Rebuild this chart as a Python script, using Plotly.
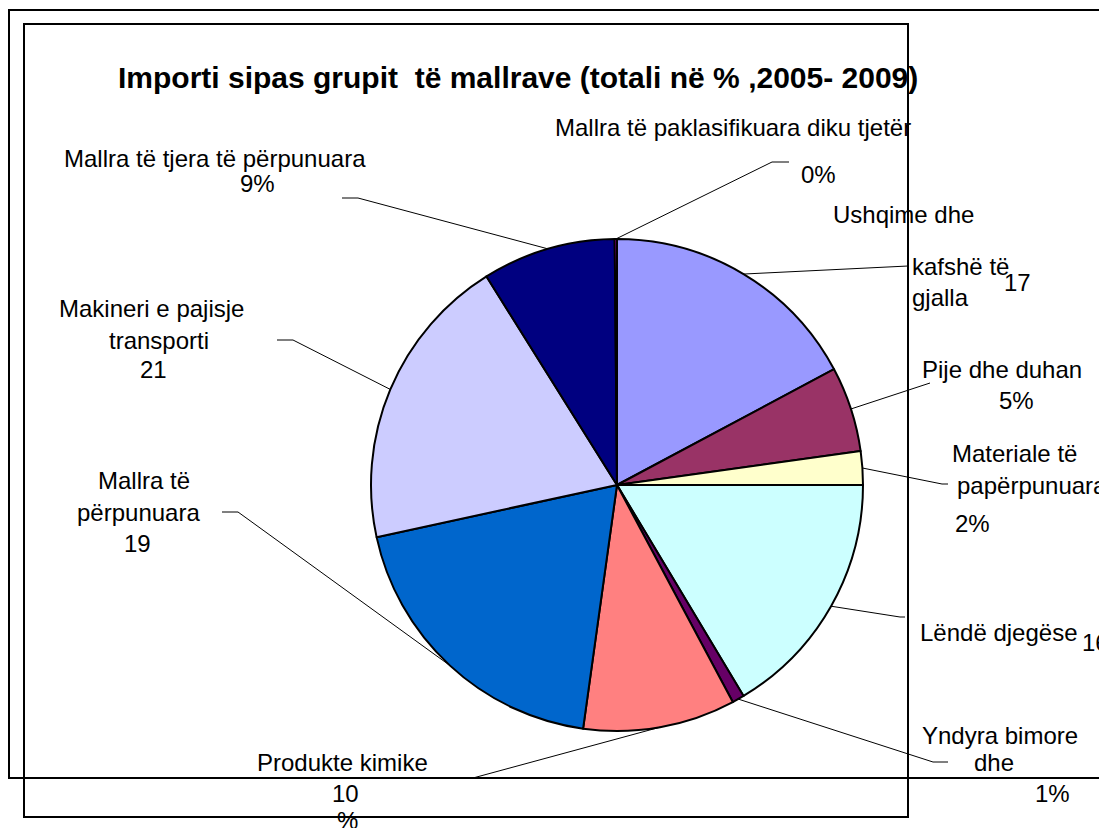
import math
import plotly.graph_objects as go

# ---------------- data ----------------
categories = [
    "Ushqime dhe kafshë të gjalla",
    "Pije dhe duhan",
    "Materiale të papërpunuara",
    "Lëndë djegëse",
    "Yndyra bimore dhe",
    "Produkte kimike",
    "Mallra të përpunuara",
    "Makineri e pajisje transporti",
    "Mallra të tjera të përpunuara",
    "Mallra të paklasifikuara diku tjetër",
]
values = [17.2, 5.6, 2.2, 16.4, 0.8, 10.0, 19.4, 19.5, 8.75, 0.15]
label_texts = [
    ["Ushqime dhe", "kafshë të", "17", "gjalla"],
    ["Pije dhe duhan", "5%"],
    ["Materiale të", "papërpunuara", "2%"],
    ["Lëndë djegëse", "16"],
    ["Yndyra bimore", "dhe", "1%"],
    ["Produkte kimike", "10", "%"],
    ["Mallra të", "përpunuara", "19"],
    ["Makineri e pajisje", "transporti", "21"],
    ["Mallra të tjera të përpunuara", "9%"],
    ["Mallra të paklasifikuara diku tjetër", "0%"],
]
title_text = "Importi sipas grupit\u00a0 të mallrave (totali në % ,2005- 2009)"

# ---------------- styles / layout positions (page pixels) ----------------
colors = ["#9999FF", "#993366", "#FFFFCC", "#CCFFFF", "#660066",
          "#FF8080", "#0066CC", "#CCCCFF", "#000080", "#FF00FF"]
W, H = 1107, 828
OFF = 8  # page body margin
CX, CY, R = 617, 485, 246
FONT = "Arial, Liberation Sans, sans-serif"
LABEL_SIZE = 24
TITLE_SIZE = 30

# left x, centre y of each text line
label_pos = [
    [(831, 214), (910, 266), (1002, 283), (910, 297)],
    [(920, 370), (997, 400)],
    [(950, 453), (955, 485), (953, 523)],
    [(918, 632), (1080, 642)],
    [(920, 735), (972, 762), (1033, 793)],
    [(255, 762), (330, 793), (335, 820)],
    [(96, 480), (75, 512), (122, 543)],
    [(57, 308), (107, 340), (138, 370)],
    [(62, 158), (238, 183)],
    [(553, 128), (799, 174)],
]
# leader line points after the slice edge point
leader_pts = [
    [(908, 266)],
    [(930, 383)],
    [(942, 484), (948, 484)],
    [(900, 617), (905, 617)],
    [(933, 762), (948, 762)],
    [(473, 778)],
    [(238, 512), (222, 512)],
    [(293, 340), (277, 340)],
    [(358, 198), (342, 198)],
    [(772, 162), (789, 162)],
]


def X(x):
    return (x - OFF) / W


def Y(y):
    return 1 - (y - OFF) / H


fig = go.Figure()
fig.add_trace(go.Pie(
    labels=categories,
    values=values,
    sort=False,
    direction="clockwise",
    rotation=0,
    marker=dict(colors=colors, line=dict(color="black", width=2)),
    textinfo="none",
    hoverinfo="label+value",
    showlegend=False,
    domain=dict(x=[X(CX - R), X(CX + R)], y=[Y(CY + R), Y(CY - R)]),
))

shapes = []
# frames
shapes.append(dict(type="rect", xref="paper", yref="paper",
                   x0=X(9), x1=X(1140), y0=Y(10), y1=Y(778),
                   line=dict(color="black", width=2), fillcolor="rgba(0,0,0,0)", layer="below"))
shapes.append(dict(type="rect", xref="paper", yref="paper",
                   x0=X(24), x1=X(908), y0=Y(24), y1=Y(817),
                   line=dict(color="black", width=2), fillcolor="rgba(0,0,0,0)", layer="below"))

# leader lines from slice mid-angle
total = sum(values)
cum = 0.0
for i, v in enumerate(values):
    mid = (cum + v / 2) / total * 2 * math.pi
    cum += v
    sx = CX + R * math.sin(mid)
    sy = CY - R * math.cos(mid)
    pts = [(sx, sy)] + leader_pts[i]
    for (x0, y0), (x1, y1) in zip(pts[:-1], pts[1:]):
        shapes.append(dict(type="line", xref="paper", yref="paper",
                           x0=X(x0), y0=Y(y0), x1=X(x1), y1=Y(y1),
                           line=dict(color="black", width=1)))

annotations = [dict(text="<b>" + title_text + "</b>", x=X(116), y=Y(77),
                    xref="paper", yref="paper", xanchor="left", yanchor="middle",
                    showarrow=False, font=dict(family=FONT, size=TITLE_SIZE, color="black"))]
for texts, poss in zip(label_texts, label_pos):
    for t, (lx, ly) in zip(texts, poss):
        annotations.append(dict(text=t, x=X(lx), y=Y(ly), xref="paper", yref="paper",
                                xanchor="left", yanchor="middle", showarrow=False,
                                font=dict(family=FONT, size=LABEL_SIZE, color="black")))

fig.update_layout(
    width=W, height=H,
    margin=dict(l=0, r=0, t=0, b=0),
    paper_bgcolor="white", plot_bgcolor="white",
    shapes=shapes, annotations=annotations,
    showlegend=False,
)

fig.write_html("out.html")
